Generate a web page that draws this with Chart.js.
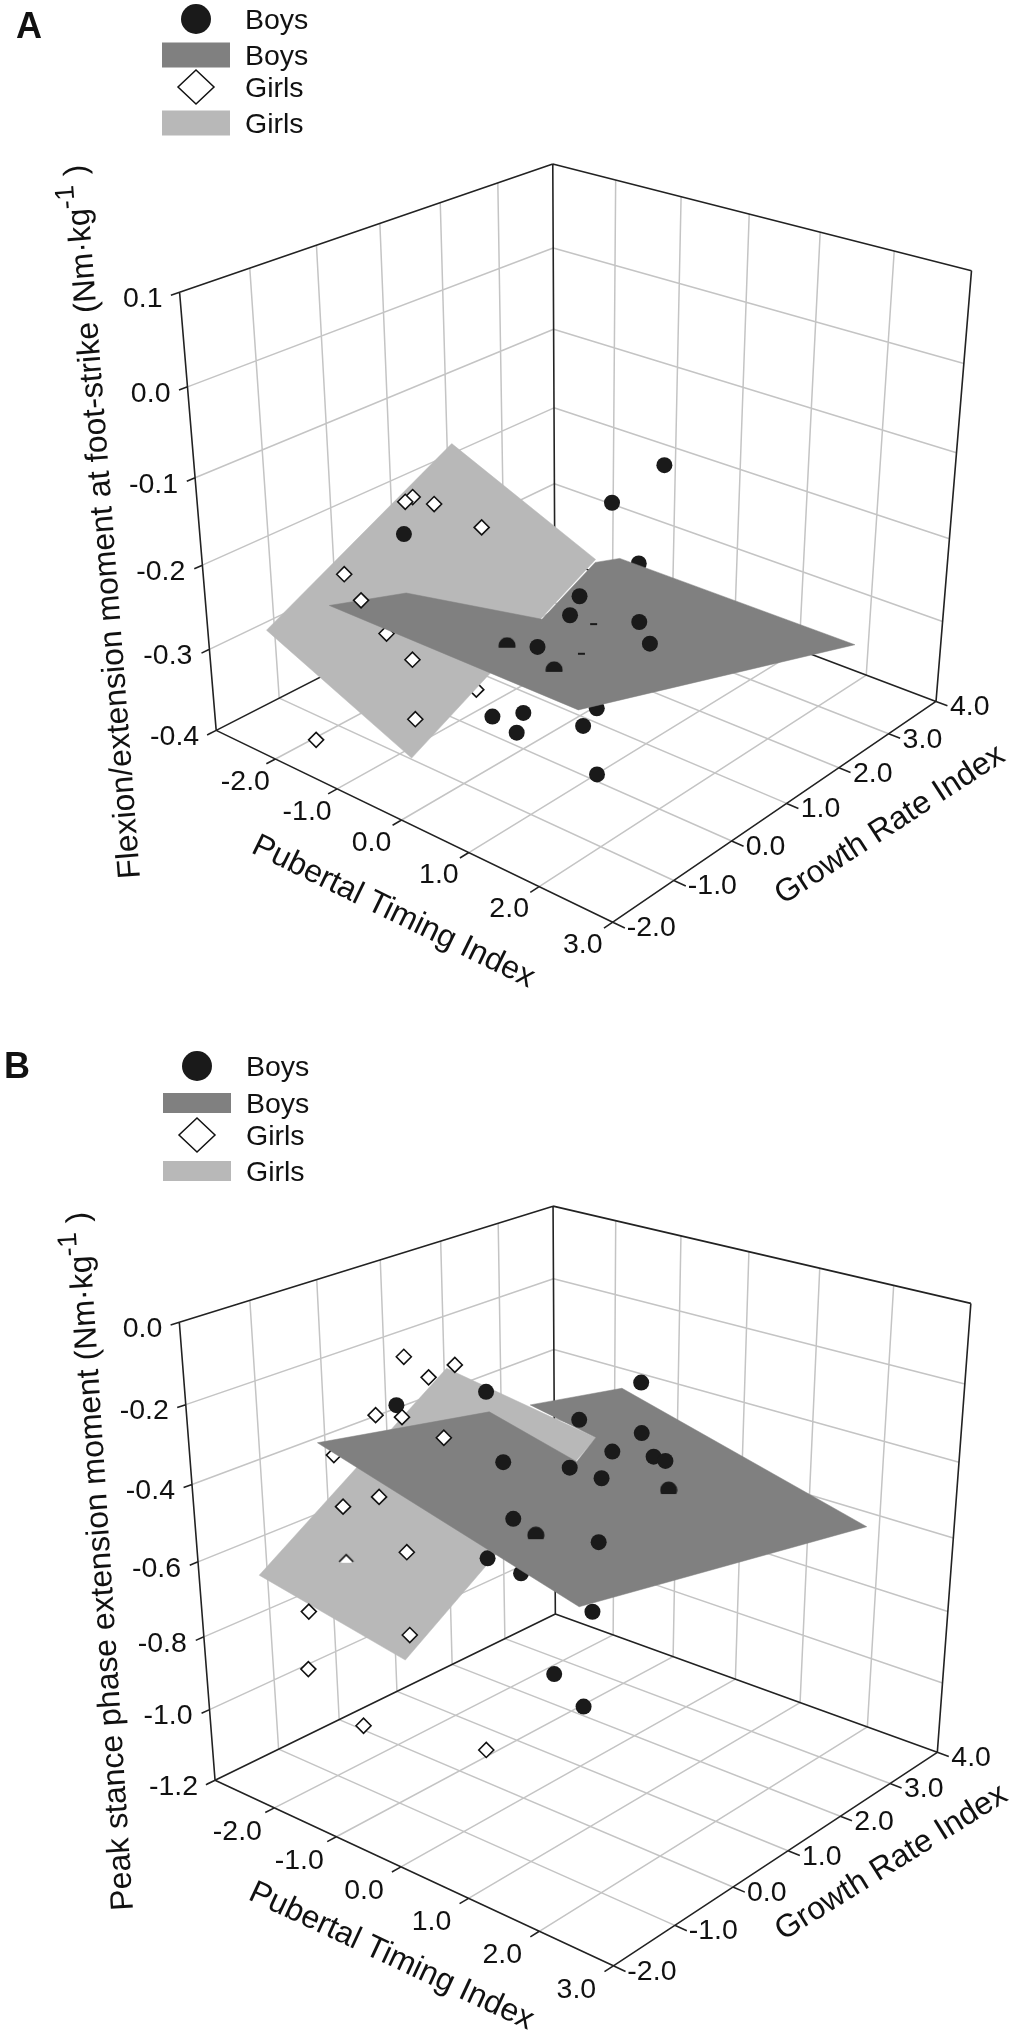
<!DOCTYPE html>
<html>
<head>
<meta charset="utf-8">
<script src="https://cdn.jsdelivr.net/npm/chart.js@4"></script>
<style>
body { margin: 0; background: #fff; }
canvas { position: absolute; left: 0; }
</style>
</head>
<body>
<canvas id="panelA" width="1012" height="1020" style="top:0"></canvas>
<canvas id="panelB" width="1012" height="1020" style="top:1020px"></canvas>
<script>
// axis ticks
const pubertalTicks = [-3, -2, -1, 0, 1, 2, 3];
const growthTicks = [-2, -1, 0, 1, 2, 3, 4];
const momentTicksA = [-0.4, -0.3, -0.2, -0.1, 0.0, 0.1];
const momentTicksB = [-1.2, -1.0, -0.8, -0.6, -0.4, -0.2, 0.0];

// [pubertal timing, growth rate, moment]
// panel A
const boysBehindA = [[0.34,1.64,-0.226],[0.40,0.83,-0.370],[0.78,0.14,-0.350],[-0.30,0.34,-0.380],[0.19,-0.32,-0.360],[1.80,-0.83,-0.330],[-0.01,-0.50,-0.340]];
const boysFrontA = [[0.49,1.89,-0.115],[0.39,1.09,-0.135],[-0.28,1.32,-0.273],[0.15,0.65,-0.258],[0.44,1.54,-0.290],[0.22,2.02,-0.342],[-0.16,0.44,-0.298],[-1.35,-0.45,-0.169]];
const boysCutA = [[-0.74,0.56,-0.320],[-0.12,0.68,-0.334]];
const boysTipsA = [[0.02,1.22,-0.294],[0.15,0.85,-0.312]];
const girlsBehindA = [[-2.06,-0.66,-0.261],[-0.71,-0.01,-0.351],[-1.46,-0.26,-0.170]];
const girlsMidA = [[-1.47,-0.67,-0.282]];
const girlsFrontA = [[-1.47,-0.17,-0.139],[-1.33,-0.43,-0.132],[-1.45,0.15,-0.157],[-0.59,0.01,-0.155],[-1.99,-0.79,-0.223],[-1.61,-0.91,-0.238],[-1.62,-0.12,-0.340],[-0.89,-0.84,-0.360],[-1.55,-1.77,-0.370]];
const girlsPlaneA = [[-3.40,2.50,-0.211],[-2.57,-1.50,-0.282],[-0.31,-1.50,-0.359],[-1.03,2.50,-0.292]];
const boysPlaneA = [[-1.50,-1.50,-0.219],[-1.50,-0.30,-0.248],[-0.15,0.51,-0.267],[-1.12,2.60,-0.302],[-1.06,3.00,-0.309],[2.46,3.00,-0.308],[2.11,-1.50,-0.218]];

// panel B
const boysBehindB = [[-0.33,0.37,-0.637],[-0.04,1.26,-0.789],[-0.40,1.00,-0.966],[0.21,0.81,-0.998]];
const boysMidB = [[-0.88,0.42,-0.635]];
const boysFrontB = [[-1.66,-0.16,-0.243],[-0.53,0.07,-0.166],[0.38,1.58,-0.186],[0.13,0.83,-0.247],[0.21,1.81,-0.337],[0.25,1.25,-0.347],[0.84,1.24,-0.327],[0.49,1.89,-0.399],[-1.03,0.87,-0.420],[0.01,0.81,-0.373],[0.03,1.33,-0.433],[-0.29,0.21,-0.481],[0.10,1.20,-0.588]];
const boysCutB = [[0.74,1.64,-0.444],[-0.54,0.86,-0.584]];
const girlsBehindB = [[-1.80,-1.00,-0.324]];
const girlsFrontB = [[-1.44,-0.24,-0.107],[-0.96,-0.36,-0.127],[-1.20,0.30,-0.146],[-1.52,-0.62,-0.233],[-1.72,-0.02,-0.285],[-0.76,-0.36,-0.265],[-1.62,-0.52,-0.452],[-2.16,-0.56,-0.506],[-1.22,-0.52,-0.572],[-1.52,-0.22,-0.836],[-1.90,-1.40,-0.706],[-2.61,-0.81,-0.958],[-1.72,-0.82,-1.053],[-0.97,0.43,-1.176]];
const girlsCutB = [[-1.95,-0.75,-0.623]];
const girlsPlaneB = [[-3.44,2.50,-0.390],[-2.57,-1.50,-0.645],[-0.32,-1.50,-0.719],[-1.04,2.50,-0.459]];
const boysPlaneB = [[-1.51,-1.50,-0.246],[-1.35,1.00,-0.314],[-0.18,1.15,-0.390],[-0.45,1.80,-0.383],[-1.31,1.65,-0.333],[-1.06,3.00,-0.356],[2.48,3.00,-0.531],[2.12,-1.50,-0.424]];

// camera of each panel (3D value -> page position)
const cameraA = [[58.70958, 76.35373, -116.3659, 519.0175], [14.43729, -16.95363, -1018.231, 401.85], [-0.02230472, 0.02625077, -0.2014887, 1]];
const cameraB = [[59.70266, 78.39414, -47.83849, 517.78], [-10.98548, 13.57308, -533.2008, 1335.24], [-0.02309402, 0.02752265, -0.08205827, 1]];

const DARK = '#1a1a1a', GRID = '#c4c4c4', FRAME = '#222', BOY_PLANE = '#808080', GIRL_PLANE = '#b8b8b8';
const FONT = '"Liberation Sans", Arial, sans-serif';

// marks that poke through a plane: only the part above it shows
function cutDisc(h) {
    const c = document.createElement('canvas');
    c.width = 18; c.height = 18;
    const g = c.getContext('2d');
    g.fillStyle = DARK;
    g.beginPath(); g.rect(0, 0, 18, h); g.clip();
    g.beginPath(); g.arc(9, 9, 8.5, 0, Math.PI * 2); g.fill();
    return c;
}
function cutDiamond() {
    const c = document.createElement('canvas');
    c.width = 18; c.height = 18;
    const g = c.getContext('2d');
    g.fillStyle = '#fff'; g.strokeStyle = '#111'; g.lineWidth = 1.6;
    g.beginPath(); g.moveTo(2, 10); g.lineTo(9, 3); g.lineTo(16, 10); g.lineTo(13, 11); g.lineTo(5, 11); g.closePath(); g.fill();
    g.beginPath(); g.moveTo(2, 10); g.lineTo(9, 3); g.lineTo(16, 10); g.stroke();
    return c;
}

function project(cam, p) {
    const w = cam[2][0] * p[0] + cam[2][1] * p[1] + cam[2][2] * p[2] + 1;
    return {
        x: (cam[0][0] * p[0] + cam[0][1] * p[1] + cam[0][2] * p[2] + cam[0][3]) / w,
        y: (cam[1][0] * p[0] + cam[1][1] * p[1] + cam[1][2] * p[2] + cam[1][3]) / w
    };
}

// segments joined in one dataset, a NaN point breaks the line
function segments(cam, list) {
    const pts = [];
    list.forEach(s => { pts.push(project(cam, s[0]), project(cam, s[1]), { x: NaN, y: NaN }); });
    return pts;
}

function lineSet(data, color, width, order) {
    return { data, showLine: true, spanGaps: false, borderColor: color, borderWidth: width, pointRadius: 0, order };
}
function planeSet(cam, corners, color, order) {
    const pts = corners.map(c => project(cam, c));
    pts.push(pts[0]);
    return { data: pts, showLine: true, fill: 'shape', backgroundColor: color, borderColor: color, borderWidth: 0.5, pointRadius: 0, order };
}
function boysSet(cam, values, order) {
    return { data: values.map(v => project(cam, v)), pointStyle: 'circle', pointRadius: 8, backgroundColor: DARK, borderColor: DARK, borderWidth: 0, order };
}
function girlsSet(cam, values, order) {
    return { data: values.map(v => project(cam, v)), pointStyle: 'rectRot', pointRadius: 7.5, backgroundColor: '#fff', borderColor: '#111', borderWidth: 1.6, order };
}
function cutSet(cam, values, image, order) {
    return { data: values.map(v => project(cam, v)), pointStyle: image, pointRadius: 9, order };
}
function tipSet(cam, values, order) {
    return { data: values.map(v => project(cam, v)), pointStyle: 'line', pointRadius: 3.5, borderColor: DARK, borderWidth: 2, order };
}

function drawLegend(ctx, lg) {
    ctx.fillStyle = DARK;
    ctx.beginPath(); ctx.arc(lg.cx, lg.rows[0], 15, 0, Math.PI * 2); ctx.fill();
    ctx.fillStyle = BOY_PLANE;
    ctx.fillRect(lg.cx - 34, lg.rows[1] - lg.key / 2, 68, lg.key);
    ctx.fillStyle = '#fff'; ctx.strokeStyle = '#111'; ctx.lineWidth = 1.5;
    ctx.beginPath();
    ctx.moveTo(lg.cx, lg.rows[2] - 17); ctx.lineTo(lg.cx + 18, lg.rows[2]); ctx.lineTo(lg.cx, lg.rows[2] + 17); ctx.lineTo(lg.cx - 18, lg.rows[2]); ctx.closePath();
    ctx.fill(); ctx.stroke();
    ctx.fillStyle = GIRL_PLANE;
    ctx.fillRect(lg.cx - 34, lg.rows[3] - lg.key / 2, 68, lg.key);
    ctx.fillStyle = '#111'; ctx.font = '28.5px ' + FONT; ctx.textAlign = 'left'; ctx.textBaseline = 'middle';
    ['Boys', 'Boys', 'Girls', 'Girls'].forEach((t, i) => ctx.fillText(t, lg.cx + 49, lg.rows[i] + 2));
}

function tiltedText(ctx, parts, x, y, deg, size) {
    ctx.save();
    ctx.translate(x, y);
    ctx.rotate(deg * Math.PI / 180);
    ctx.textAlign = 'left'; ctx.textBaseline = 'alphabetic'; ctx.fillStyle = '#111';
    let at = 0;
    parts.forEach(p => {
        ctx.font = (p.sup ? size * 0.85 : size) + 'px ' + FONT;
        ctx.fillText(p.text, at, p.sup ? -size * 0.42 : 0);
        at += ctx.measureText(p.text).width;
    });
    ctx.restore();
}

function drawPanel(id, cfg) {
    const cam = cfg.cam, zs = cfg.momentTicks;
    const zMin = zs[0], zMax = zs[zs.length - 1];
    const xMin = pubertalTicks[0], xMax = pubertalTicks[6], yMin = growthTicks[0], yMax = growthTicks[6];

    const grid = [];
    pubertalTicks.slice(1, 6).forEach(x => {
        grid.push([[x, yMin, zMin], [x, yMax, zMin]]);
        grid.push([[x, yMax, zMin], [x, yMax, zMax]]);
    });
    growthTicks.slice(1, 6).forEach(y => {
        grid.push([[xMin, y, zMin], [xMax, y, zMin]]);
        grid.push([[xMin, y, zMin], [xMin, y, zMax]]);
    });
    zs.slice(1, zs.length - 1).forEach(z => {
        grid.push([[xMin, yMin, z], [xMin, yMax, z]]);
        grid.push([[xMin, yMax, z], [xMax, yMax, z]]);
    });

    const frame = [
        [[xMin, yMin, zMin], [xMin, yMin, zMax]], [[xMin, yMax, zMin], [xMin, yMax, zMax]], [[xMax, yMax, zMin], [xMax, yMax, zMax]],
        [[xMin, yMin, zMax], [xMin, yMax, zMax]], [[xMin, yMax, zMax], [xMax, yMax, zMax]],
        [[xMin, yMin, zMin], [xMin, yMax, zMin]], [[xMin, yMax, zMin], [xMax, yMax, zMin]],
        [[xMin, yMin, zMin], [xMax, yMin, zMin]], [[xMax, yMin, zMin], [xMax, yMax, zMin]]
    ];
    pubertalTicks.forEach(x => frame.push([[x, yMin, zMin], [x, yMin - 0.14, zMin]]));
    growthTicks.forEach(y => frame.push([[xMax, y, zMin], [xMax + 0.16, y, zMin]]));
    zs.forEach(z => frame.push([[xMin, yMin, z], [xMin, yMin - 0.12, z]]));

    const datasets = [lineSet(segments(cam, grid), GRID, 1.5, 20), lineSet(segments(cam, frame), FRAME, 1.6, 19)];
    cfg.layers.forEach((mk, i) => datasets.push(mk(18 - i)));

    const labels = {
        id: 'labels',
        afterDraw(chart) {
            const ctx = chart.ctx, sx = chart.scales.x, sy = chart.scales.y;
            const at = p => { const q = project(cam, p); return { x: sx.getPixelForValue(q.x), y: sy.getPixelForValue(q.y) }; };
            ctx.save();
            ctx.font = '28.5px ' + FONT; ctx.fillStyle = '#111'; ctx.textBaseline = 'middle';
            ctx.textAlign = 'right';
            zs.forEach(z => { const q = at([xMin, yMin, z]); ctx.fillText(z.toFixed(1), q.x - 17, q.y + 7); });
            ctx.textAlign = 'center';
            pubertalTicks.slice(1).forEach(x => { const q = at([x, yMin, zMin]); ctx.fillText(x.toFixed(1), q.x + cfg.xLabel[0], q.y + cfg.xLabel[1]); });
            ctx.textAlign = 'left';
            growthTicks.forEach(y => { const q = at([xMax, y, zMin]); ctx.fillText(y.toFixed(1), q.x + 14, q.y + 6); });
            ctx.restore();
            ctx.save();
            ctx.translate(0, -cfg.top);
            ctx.font = 'bold 36px ' + FONT; ctx.textBaseline = 'alphabetic'; ctx.fillStyle = '#111';
            ctx.fillText(cfg.letter, cfg.letterAt[0], cfg.letterAt[1]);
            drawLegend(ctx, cfg.legend);
            cfg.titles.forEach(t => tiltedText(ctx, t.parts, t.x, t.y, t.deg, t.size));
            ctx.restore();
        }
    };

    return new Chart(document.getElementById(id), {
        type: 'scatter',
        data: { datasets },
        options: {
            responsive: false,
            animation: false,
            clip: false,
            layout: { padding: 0, autoPadding: false },
            plugins: { legend: { display: false }, tooltip: { enabled: false } },
            elements: { line: { tension: 0 } },
            scales: {
                x: { type: 'linear', display: false, min: 0, max: 1012 },
                y: { type: 'linear', display: false, min: cfg.top, max: cfg.top + 1020, reverse: true }
            }
        },
        plugins: [labels]
    });
}

drawPanel('panelA', {
    cam: cameraA, momentTicks: momentTicksA, top: 0, letter: 'A', letterAt: [16, 38],
    xLabel: [-30, 23],
    legend: { cx: 196, key: 25, rows: [19, 55, 87, 123] },
    titles: [
        { parts: [{ text: 'Flexion/extension moment at foot-strike (Nm·kg' }, { text: '-1', sup: true }, { text: ' )' }], x: 140, y: 878, deg: -94.4, size: 32 },
        { parts: [{ text: 'Pubertal Timing Index' }], x: 250, y: 852, deg: 26, size: 32 },
        { parts: [{ text: 'Growth Rate Index' }], x: 783, y: 905, deg: -33, size: 32 }
    ],
    layers: [
        o => boysSet(cameraA, boysBehindA, o),
        o => girlsSet(cameraA, girlsBehindA, o),
        o => planeSet(cameraA, girlsPlaneA, GIRL_PLANE, o),
        o => girlsSet(cameraA, girlsMidA, o),
        o => planeSet(cameraA, boysPlaneA, BOY_PLANE, o),
        o => boysSet(cameraA, boysFrontA, o),
        o => cutSet(cameraA, boysCutA, cutDisc(11), o),
        o => tipSet(cameraA, boysTipsA, o),
        o => girlsSet(cameraA, girlsFrontA, o)
    ]
});

drawPanel('panelB', {
    cam: cameraB, momentTicks: momentTicksB, top: 1020, letter: 'B', letterAt: [4, 1078],
    xLabel: [-37, 24],
    legend: { cx: 197, key: 20, rows: [1066, 1103, 1135, 1171] },
    titles: [
        { parts: [{ text: 'Peak stance phase extension moment (Nm·kg' }, { text: '-1', sup: true }, { text: ' )' }], x: 133, y: 1910, deg: -93.7, size: 32 },
        { parts: [{ text: 'Pubertal Timing Index' }], x: 247, y: 1899, deg: 25, size: 32 },
        { parts: [{ text: 'Growth Rate Index' }], x: 783, y: 1941, deg: -32, size: 32 }
    ],
    layers: [
        o => boysSet(cameraB, boysBehindB, o),
        o => girlsSet(cameraB, girlsBehindB, o),
        o => planeSet(cameraB, girlsPlaneB, GIRL_PLANE, o),
        o => boysSet(cameraB, boysMidB, o),
        o => planeSet(cameraB, boysPlaneB, BOY_PLANE, o),
        o => boysSet(cameraB, boysFrontB, o),
        o => cutSet(cameraB, boysCutB, cutDisc(13), o),
        o => girlsSet(cameraB, girlsFrontB, o),
        o => cutSet(cameraB, girlsCutB, cutDiamond(), o)
    ]
});
</script>
</body>
</html>
